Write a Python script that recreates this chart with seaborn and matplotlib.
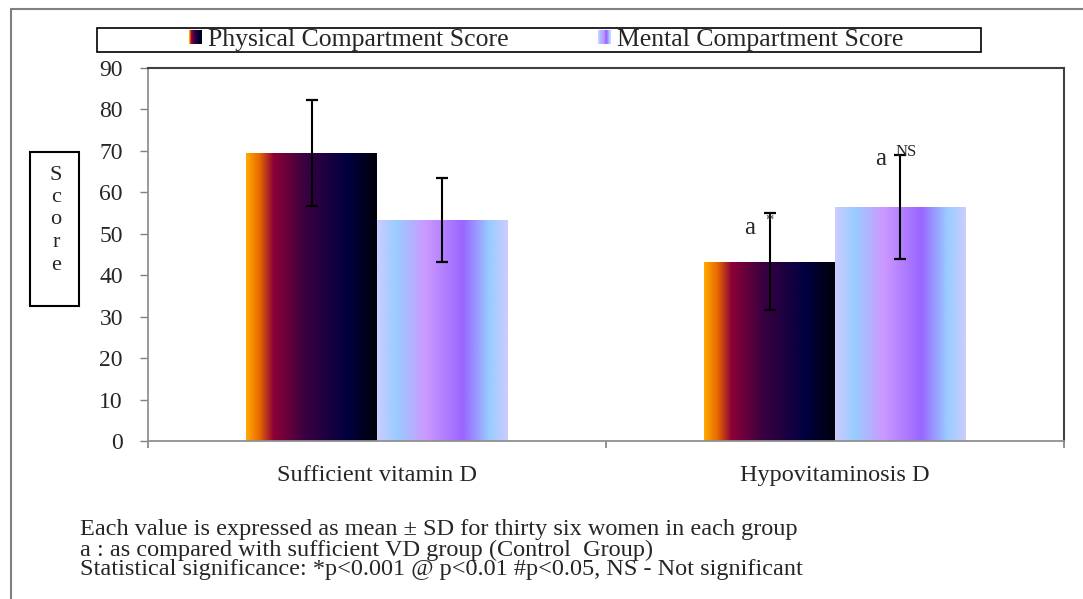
import matplotlib

matplotlib.use("Agg")

import matplotlib.pyplot as plt
import numpy as np
import pandas as pd
import seaborn as sns
from matplotlib.colors import LinearSegmentedColormap
from matplotlib.legend_handler import HandlerBase
from matplotlib.lines import Line2D
from matplotlib.patches import Patch, Rectangle

# data
groups = ["Sufficient vitamin D", "Hypovitaminosis D"]
measures = ["Physical Compartment Score", "Mental Compartment Score"]
physical_mean = [69.5, 43.3]
physical_sd = [12.85, 11.8]
mental_mean = [53.3, 56.4]
mental_sd = [10.15, 12.6]
significance = [["", "*"], ["", "NS"]]  # per measure, per group
y_ticks = [0, 10, 20, 30, 40, 50, 60, 70, 80, 90]
footnotes = [
    "Each value is expressed as mean \u00b1 SD for thirty six women in each group",
    "a : as compared with sufficient VD group (Control  Group)",
    "Statistical significance: *p<0.001 @ p<0.01 #p<0.05, NS - Not significant",
]

sns.set_theme(style="white")
plt.rcParams["font.family"] = ["Liberation Serif", "DejaVu Serif"]

phys_cmap = LinearSegmentedColormap.from_list(
    "phys",
    [(0, "#FFAA00"), (0.1, "#E86A00"), (0.21, "#8C0038"), (0.45, "#3A0040"),
     (0.78, "#000040"), (1, "#000008")],
)
ment_cmap = LinearSegmentedColormap.from_list(
    "ment",
    [(0, "#CCCCFF"), (0.15, "#99CCFF"), (0.37, "#CC99FF"), (0.66, "#9966FF"),
     (0.86, "#99CCFF"), (1, "#CCCCFF")],
)
cmaps = [phys_cmap, ment_cmap]


class GradientHandler(HandlerBase):
    def __init__(self, cmap, n=16):
        super().__init__()
        self.cmap = cmap
        self.n = n

    def create_artists(self, legend, orig_handle, xdescent, ydescent,
                       width, height, fontsize, trans):
        step = width / self.n
        return [
            Rectangle((-xdescent + i * step, -ydescent), step * 1.05, height,
                      facecolor=self.cmap(i / (self.n - 1)), lw=0, transform=trans)
            for i in range(self.n)
        ]


df = pd.DataFrame({
    "group": groups * 2,
    "measure": [measures[0]] * 2 + [measures[1]] * 2,
    "score": physical_mean + mental_mean,
})

fig = plt.figure(figsize=(10.83, 5.99), dpi=100)
ax = fig.add_axes([148 / 1083, 1 - 441 / 599, (1064 - 148) / 1083, (441 - 68) / 599])
sns.barplot(data=df, x="group", y="score", hue="measure", hue_order=measures,
            order=groups, width=0.572, gap=0, errorbar=None, legend=False, ax=ax)

grad = np.linspace(0, 1, 256).reshape(1, -1)
sds = [physical_sd, mental_sd]
means = [physical_mean, mental_mean]
bar_containers = list(ax.containers)
for k, container in enumerate(bar_containers):
    xs = []
    for bar in container.patches:
        x0, w, h = bar.get_x(), bar.get_width(), bar.get_height()
        im = ax.imshow(grad, cmap=cmaps[k], aspect="auto", extent=[x0, x0 + w, 0, h],
                       origin="lower", zorder=1)
        im.set_clip_path(bar)
        bar.set_facecolor("none")
        bar.set_linewidth(0)
        xs.append(x0 + w / 2)
    ax.errorbar(xs, means[k], yerr=sds[k], fmt="none", ecolor="black",
                elinewidth=1.5, capsize=4, capthick=1.6, zorder=3)
    for x, m, s, sig in zip(xs, means[k], sds[k], significance[k]):
        if not sig:
            continue
        dy = -11 if sig == "*" else -3
        ax.annotate("a", xy=(x, m + s), xytext=(-14, dy), textcoords="offset points",
                    ha="center", va="center", fontsize=18, zorder=4)
        ax.annotate(sig, xy=(x, m + s), xytext=(0 if sig == "*" else 4, dy + 5),
                    textcoords="offset points", ha="center", va="center",
                    fontsize=12, zorder=4)

ax.set_xlim(-0.5, 1.5)
ax.set_ylim(0, 90)
ax.set_yticks(y_ticks)
ax.set_xlabel("")
ax.set_ylabel("")
ax.tick_params(axis="y", labelsize=17, length=6, width=1, color="#808080",
               direction="out", left=True, pad=12)
ax.tick_params(axis="x", labelsize=17.5, length=0, pad=17)
ax.set_xticks([-0.5, 0.5, 1.5], minor=True)
ax.tick_params(axis="x", which="minor", length=5, width=1.2, color="#808080",
               direction="out", bottom=True)
for side in ["left", "bottom"]:
    ax.spines[side].set_color("#909090")
    ax.spines[side].set_linewidth(1.3)
for side in ["top", "right"]:
    ax.spines[side].set_color("#404040")
    ax.spines[side].set_linewidth(1.5)

# legend with its own frame box
handles = [Patch(label=m) for m in measures]
fig.legend(handles=handles, labels=measures, loc="center",
           bbox_to_anchor=(546 / 1083, 1 - 40 / 599), ncol=2, frameon=False,
           fontsize=18.5, handlelength=0.5, handleheight=0.47, handletextpad=0.23,
           columnspacing=3.5,
           handler_map={handles[0]: GradientHandler(phys_cmap),
                        handles[1]: GradientHandler(ment_cmap)})
fig.add_artist(Rectangle((97 / 1083, 1 - 52 / 599), (981 - 97) / 1083, 24 / 599,
                         transform=fig.transFigure, fill=False, edgecolor="black", lw=1.2))

# boxed vertical axis title
fig.add_artist(Rectangle((30 / 1083, 1 - 306 / 599), 49 / 1083, 154 / 599,
                         transform=fig.transFigure, fill=False, edgecolor="black", lw=1.5))
fig.text(56 / 1083, 1 - 220 / 599, "S\nc\no\nr\ne", ha="center", va="center",
         fontsize=16, linespacing=1.25)

# outer frame of the figure panel
fig.add_artist(Line2D([11 / 1083, 11 / 1083], [0, 1 - 9 / 599], transform=fig.transFigure,
                      color="#808080", lw=1.5))
fig.add_artist(Line2D([11 / 1083, 1], [1 - 9 / 599, 1 - 9 / 599], transform=fig.transFigure,
                      color="#808080", lw=1.5))

for i, line in enumerate(footnotes):
    fig.text(80 / 1083, 1 - (530 + 20 * i) / 599, line, ha="left", va="center", fontsize=17.5)

fig.savefig("out.png", dpi=100)
plt.close(fig)
